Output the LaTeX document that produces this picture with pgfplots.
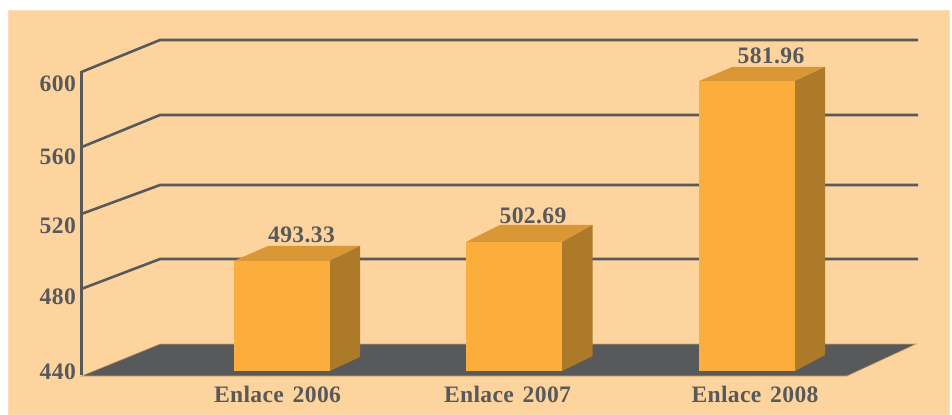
\documentclass[border=0pt]{standalone}
\usepackage{fontspec}
\setmainfont{Liberation Serif}[LetterSpace=1.5,WordSpace=1.4]
\usepackage{pgfplots}
\pgfplotsset{compat=1.18}
\definecolor{panel}{HTML}{FDD49E}
\definecolor{panelb}{HTML}{FDDDB4}
\definecolor{txt}{HTML}{58595B}
\definecolor{front}{HTML}{FCAE3C}
\definecolor{topf}{HTML}{D99835}
\definecolor{sidef}{HTML}{AD7A29}
\definecolor{edge}{HTML}{C9A067}

\begin{document}
\begin{tikzpicture}
\begin{axis}[
    scale only axis,
    width=417.25pt, height=168pt,
    xmin=81.5, xmax=916,
    ymin=436.71, ymax=602.14,
    clip=false,
    axis on top,
    axis line style={draw=none},
    tick style={draw=none},
    xtick={277.5,507.5,755},
    xticklabels={Enlace 2006,Enlace 2007,Enlace 2008},
    ytick={439,475.8,510.5,544.5,580.5},
    yticklabels={440,480,520,560,600},
    every tick label/.append style={font=\fontsize{11.8}{13}\bfseries\selectfont, text=txt},
    xticklabel style={yshift=-1.5pt},
    yticklabel style={xshift=0.7pt},
]
% fondo y limites de la imagen
\path (axis cs:0,418) (axis cs:952,621.84);
\addplot[fill=panel, draw=panelb, line width=0.5pt] coordinates {(8.5,418) (8.5,616.7) (949.5,616.7) (949.5,418)} -- cycle;

% lineas de la cuadricula
\addplot[txt, line width=1.3pt, line join=miter] coordinates {(81.5,586.39) (160,602.14) (918,602.14)};
\addplot[txt, line width=1.3pt] coordinates {(81.5,549.4) (160,565.22) (918,565.22)};
\addplot[txt, line width=1.3pt] coordinates {(81.5,516.5) (160,530.75) (918,530.75)};
\addplot[txt, line width=1.3pt] coordinates {(81.5,479.6) (160,494.31) (918,494.31)};
\addplot[txt, line width=1.3pt] coordinates {(81.5,437.2) (81.5,586.8)};

% piso
\addplot[fill=txt, draw=edge, line width=0.3pt] coordinates {(81.5,436.71) (160,452.46) (916,452.46) (847,436.71)} -- cycle;

% Enlace 2006
\addplot[fill=topf, draw=none] coordinates {(233.5,493.33) (268,500.72) (360,500.72) (329.5,493.33)} -- cycle;
\addplot[fill=sidef, draw=none] coordinates {(329.5,493.33) (360,500.72) (360,446.06) (329.5,439.17)} -- cycle;
\addplot[fill=front, draw=none] coordinates {(233.5,439.17) (233.5,493.33) (329.5,493.33) (329.5,439.17)} -- cycle;
% Enlace 2007
\addplot[fill=topf, draw=none] coordinates {(466,502.69) (500,511.06) (592.5,511.06) (562,502.69)} -- cycle;
\addplot[fill=sidef, draw=none] coordinates {(562,502.69) (592.5,511.06) (592.5,446.5) (562,439.17)} -- cycle;
\addplot[fill=front, draw=none] coordinates {(466,439.17) (466,502.69) (562,502.69) (562,439.17)} -- cycle;
% Enlace 2008
\addplot[fill=topf, draw=none] coordinates {(699.3,581.96) (732,588.85) (825,588.85) (795,581.96)} -- cycle;
\addplot[fill=sidef, draw=none] coordinates {(795,581.96) (825,588.85) (825,447.05) (795,439.17)} -- cycle;
\addplot[fill=front, draw=none] coordinates {(699.3,439.17) (699.3,581.96) (795,581.96) (795,439.17)} -- cycle;

% valores
\node[font=\fontsize{11.8}{13}\bfseries\selectfont, text=txt] at (axis cs:301.5,506.2) {493.33};
\node[font=\fontsize{11.8}{13}\bfseries\selectfont, text=txt] at (axis cs:533,515.6) {502.69};
\node[font=\fontsize{11.8}{13}\bfseries\selectfont, text=txt] at (axis cs:771,594.4) {581.96};
\end{axis}
\end{tikzpicture}
\end{document}
